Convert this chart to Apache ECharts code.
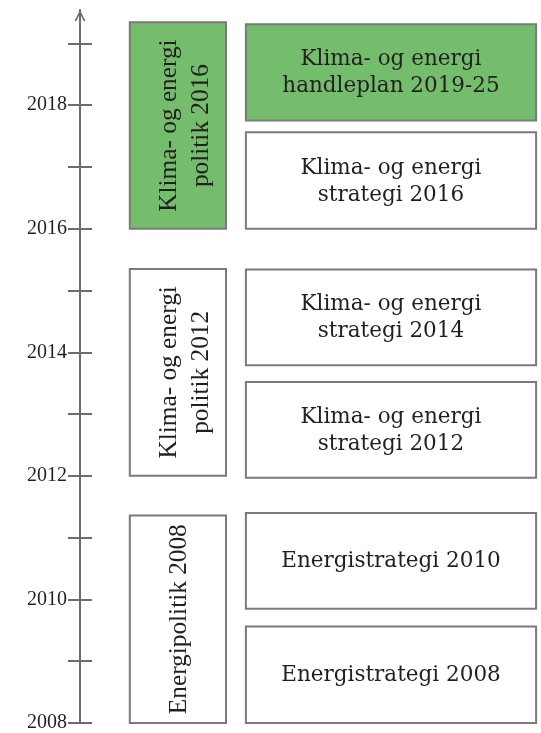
<!DOCTYPE html>
<html>
<head>
<meta charset="utf-8">
<script src="https://cdn.jsdelivr.net/npm/echarts@6/dist/echarts.min.js"></script>
<style>
html,body{margin:0;padding:0;background:#fff;}
#chart{width:541px;height:733px;}
</style>
</head>
<body>
<div id="chart"></div>
<script>
// ---- data ----
const tickYears = [2008, 2009, 2010, 2011, 2012, 2013, 2014, 2015, 2016, 2017, 2018, 2019];
const labelYears = [2008, 2010, 2012, 2014, 2016, 2018];

const policyLabels = ['Energipolitik 2008', 'Klima- og energi\npolitik 2012', 'Klima- og energi\npolitik 2016'];
const policyStart = [2008, 2012, 2016];
const policyEnd = [2011.36, 2015.35, 2019.34];
const policyHighlight = [false, false, true];

const strategyLabels = ['Energistrategi 2008', 'Energistrategi 2010', 'Klima- og energi\nstrategi 2012', 'Klima- og energi\nstrategi 2014', 'Klima- og energi\nstrategi 2016', 'Klima- og energi\nhandleplan 2019-25'];
const strategyStart = [2008, 2009.85, 2011.97, 2013.79, 2016, 2017.75];
const strategyEnd = [2009.56, 2011.4, 2013.52, 2015.34, 2017.56, 2019.31];
const strategyHighlight = [false, false, false, false, false, true];

// ---- layout / style ----
const AXIS_COLOR = '#6d6d6d';
const BORDER = '#7a7a7a';
const GREEN = '#74bd6d';
const TEXT = '#231f20';
// column extents as fractions of the grid width
const COLS = [[0.109, 0.3195], [0.363, 0.998]];

const boxes = [];
policyLabels.forEach((l, i) => boxes.push([0, policyStart[i], policyEnd[i], l, policyHighlight[i] ? 1 : 0]));
strategyLabels.forEach((l, i) => boxes.push([1, strategyStart[i], strategyEnd[i], l, strategyHighlight[i] ? 1 : 0]));

const chart = echarts.init(document.getElementById('chart'), null, {renderer: 'canvas'});

function renderItem(params, api) {
  const col = api.value(0);
  const s = api.value(1), e = api.value(2);
  const d = boxes[params.dataIndex];
  const c = COLS[col];
  const pTL = api.coord([c[0], e]);
  const pBR = api.coord([c[1], s]);
  const x = pTL[0], y = pTL[1], w = pBR[0] - pTL[0], h = pBR[1] - pTL[1];
  const cx = x + w / 2, cy = y + h / 2;
  const lines = d[3].split('\n').length;
  const children = [{
    type: 'rect',
    shape: {x: x, y: y, width: w, height: h},
    style: {fill: d[4] ? GREEN : '#fff', stroke: BORDER, lineWidth: 2}
  }];
  if (col === 0) {
    children.push({
      type: 'text', x: cx + 1 + (lines - 1) * 6, y: cy, rotation: Math.PI / 2,
      style: {text: d[3], fill: TEXT, fontFamily: 'Liberation Serif', fontSize: 25.3, lineHeight: 32, align: 'center', verticalAlign: 'middle'}
    });
  } else {
    children.push({
      type: 'text', x: cx, y: cy + 1,
      style: {text: d[3], fill: TEXT, fontFamily: 'DejaVu Serif', fontSize: 21.5, lineHeight: 27, align: 'center', verticalAlign: 'middle'}
    });
  }
  return {type: 'group', children: children};
}

const chevron = 'path://M0,10 L5,0 L10,10 L8.3,10 L5,3.2 L1.7,10 Z';

chart.setOption({
  animation: false,
  grid: {left: 80, right: 4, top: 10, bottom: 6},
  xAxis: {type: 'value', min: 0, max: 1, show: false},
  yAxis: [{
    type: 'value', position: 'left', min: 2008, max: 2019.54,
    splitLine: {show: false},
    axisLine: {show: true, lineStyle: {color: AXIS_COLOR, width: 2}, symbol: ['none', chevron], symbolSize: [11, 11], symbolOffset: [0, -5.5]},
    axisTick: {show: true, customValues: tickYears, length: 12, lineStyle: {color: AXIS_COLOR, width: 2}},
    axisLabel: {show: true, customValues: labelYears, margin: 13, color: TEXT, fontFamily: 'Liberation Serif', fontSize: 20,
      formatter: v => String(Math.round(v))}
  }, {
    type: 'value', position: 'left', offset: 0, min: 2008, max: 2019.54,
    splitLine: {show: false},
    axisLine: {show: false},
    axisTick: {show: true, inside: true, customValues: tickYears, length: 12, lineStyle: {color: AXIS_COLOR, width: 2}},
    axisLabel: {show: false}
  }],
  series: [{
    type: 'custom',
    renderItem: renderItem,
    data: boxes.map(b => [b[0], b[1], b[2]]),
    encode: {x: 0, y: [1, 2]},
    clip: false
  }]
});
</script>
</body>
</html>
